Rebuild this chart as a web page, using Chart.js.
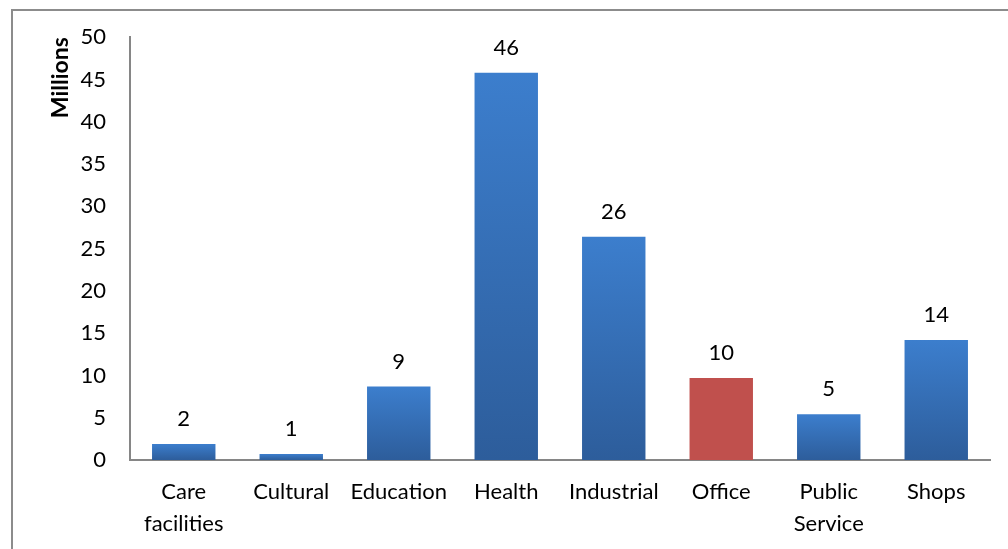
<!DOCTYPE html>
<html>
<head>
<meta charset="utf-8">
<script src="https://cdn.jsdelivr.net/npm/chart.js@4"></script>
<style>
  html, body { margin: 0; padding: 0; background: #fff; overflow: hidden; }
  #wrap { position: relative; width: 1008px; height: 549px; overflow: hidden; }
  #frame { position: absolute; left: 11px; top: 9px; right: 0; bottom: 0; border-top: 2px solid #8c8c8c; border-left: 2px solid #8c8c8c; }
  canvas { position: absolute; left: 0; top: 0; }
</style>
</head>
<body>
<div id="wrap">
  <div id="frame"></div>
  <canvas id="myChart" width="1008" height="549"></canvas>
</div>
<script>
//   data
const categories = [["Care", "facilities"], "Cultural", "Education", "Health", "Industrial", "Office", ["Public", "Service"], "Shops"];
const values = [1.9, 0.7, 8.7, 45.8, 26.4, 9.7, 5.4, 14.2];
const highlighted = "Office";

const font = "Lato, 'Open Sans', sans-serif";

// labels above bars (rounded like the original)
const valueLabels = {
  id: "valueLabels",
  afterDatasetsDraw(chart) {
    const c = chart.ctx;
    const meta = chart.getDatasetMeta(0);
    c.save();
    c.font = "22px " + font;
    c.fillStyle = "#000";
    c.textAlign = "center";
    c.textBaseline = "middle";
    meta.data.forEach((bar, i) => {
      c.fillText(String(Math.round(values[i])), bar.x, bar.y - 25);
    });
    c.restore();
  },
};

function barColor(context) {
  const chart = context.chart;
  const i = context.dataIndex;
  const name = Array.isArray(categories[i]) ? categories[i].join(" ") : categories[i];
  if (name === highlighted) return "#c0504d";
  if (!chart.chartArea) return "#3a78c6";
  const y = chart.scales.y;
  const top = y.getPixelForValue(values[i]);
  const bottom = y.getPixelForValue(0);
  const g = chart.ctx.createLinearGradient(0, top, 0, bottom);
  g.addColorStop(0, "#3c7ecd");
  g.addColorStop(1, "#2d5d9b");
  return g;
}

const ctx = document.getElementById("myChart");

new Chart(ctx, {
  type: "bar",
  data: {
    labels: categories,
    datasets: [
      {
        label: "Millions",
        data: values,
        backgroundColor: barColor,
        borderWidth: 0,
        categoryPercentage: 1,
        barPercentage: 0.59,
      },
    ],
  },
  options: {
    responsive: false,
    animation: false,
    layout: {
      padding: { left: 37, right: 18, top: 37, bottom: 0 },
    },
    plugins: {
      legend: { display: false },
      tooltip: { enabled: false },
    },
    scales: {
      x: {
        grid: { display: false, drawTicks: false },
        border: { display: true, color: "#868686", width: 2 },
        ticks: {
          color: "#000",
          padding: 16,
          maxRotation: 0,
          autoSkip: false,
          font: { family: font, size: 22, lineHeight: 1.45 },
        },
        afterFit(scale) {
          scale.height = 89;
        },
      },
      y: {
        min: 0,
        max: 50,
        grid: { display: false, drawTicks: false },
        border: { display: true, color: "#868686", width: 2 },
        ticks: {
          stepSize: 5,
          color: "#000",
          padding: 24,
          font: { family: font, size: 22 },
        },
        title: {
          display: true,
          text: "Millions",
          align: "end",
          color: "#000",
          padding: { top: 10, bottom: 0 },
          font: { family: font, size: 23, weight: "bold" },
        },
        afterFit(scale) {
          scale.width = 93;
        },
      },
    },
  },
  plugins: [valueLabels],
});
</script>
</body>
</html>
